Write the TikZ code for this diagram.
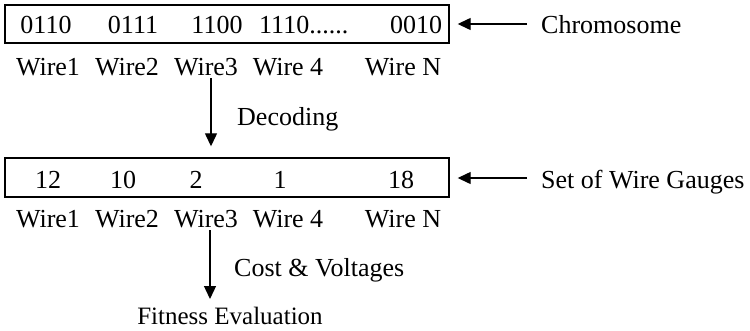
\documentclass[tikz,border=0pt]{standalone}
\usepackage{fontspec}
\setmainfont{Liberation Serif}
\usetikzlibrary{arrows.meta}
\begin{document}
\begin{tikzpicture}[x=1pt,y=-1pt,
  txt/.style={inner sep=0pt,anchor=base,font=\fontsize{26}{31}\selectfont},
  ltxt/.style={txt,anchor=base west},
  gbox/.style={draw,line width=1.4pt,minimum width=444pt,inner sep=0pt},
  arr/.style={line width=1.3pt,-{Triangle[length=13pt,width=12pt]}}]
\useasboundingbox (0,0) rectangle (750,330);
% box 1
\node[gbox,minimum height=38pt] (b1) at (227,24) {};
\node[txt] (c1) at (46,33) {0110};
\node[txt] (c2) at (133,33) {0111};
\node[txt] (c3) at (217,33) {1100};
\node[ltxt] (c4) at (259,33) {1110......};
\node[txt] (c5) at (416,33) {0010};
\node[txt] (w11) at (48,75) {Wire1};
\node[txt] (w12) at (127,75) {Wire2};
\node[txt] (w13) at (206,75) {Wire3};
\node[txt] (w14) at (288,75) {Wire 4};
\node[txt] (w15) at (403,75) {Wire N};
\node[ltxt] (chrom) at (541,33) {Chromosome};
% box 2
\node[gbox,minimum height=39pt] (b2) at (227,177.5) {};
\node[txt] (g1) at (48,188) {12};
\node[txt] (g2) at (123,188) {10};
\node[txt] (g3) at (196,188) {2};
\node[txt] (g4) at (280,188) {1};
\node[txt] (g5) at (401,188) {18};
\node[txt] (w21) at (48,227) {Wire1};
\node[txt] (w22) at (127,227) {Wire2};
\node[txt] (w23) at (206,227) {Wire3};
\node[txt] (w24) at (288,227) {Wire 4};
\node[txt] (w25) at (403,227) {Wire N};
\node[ltxt] (gauges) at (541,188) {Set of Wire Gauges};
% labels
\node[ltxt] (dec) at (237,125) {Decoding};
\node[ltxt] (cost) at (234,276) {Cost \& Voltages};
\node[txt,font=\fontsize{25}{30}\selectfont] (fit) at (230,324) {Fitness Evaluation};
% connectors
\coordinate (a1) at (527,24);
\coordinate (a2) at (527,178);
\coordinate (d1) at (211,78);
\coordinate (d2) at (210,230);
\coordinate (d2e) at (210,299);
\draw[arr,shorten >=8pt] (a1) -- (a1 -| b1.east);
\draw[arr,shorten >=8pt] (a2) -- (a2 -| b2.east);
\draw[arr,shorten >=11pt] (d1) -- (d1 |- b2.north);
\draw[arr] (d2) -- (d2e);
\end{tikzpicture}
\end{document}
